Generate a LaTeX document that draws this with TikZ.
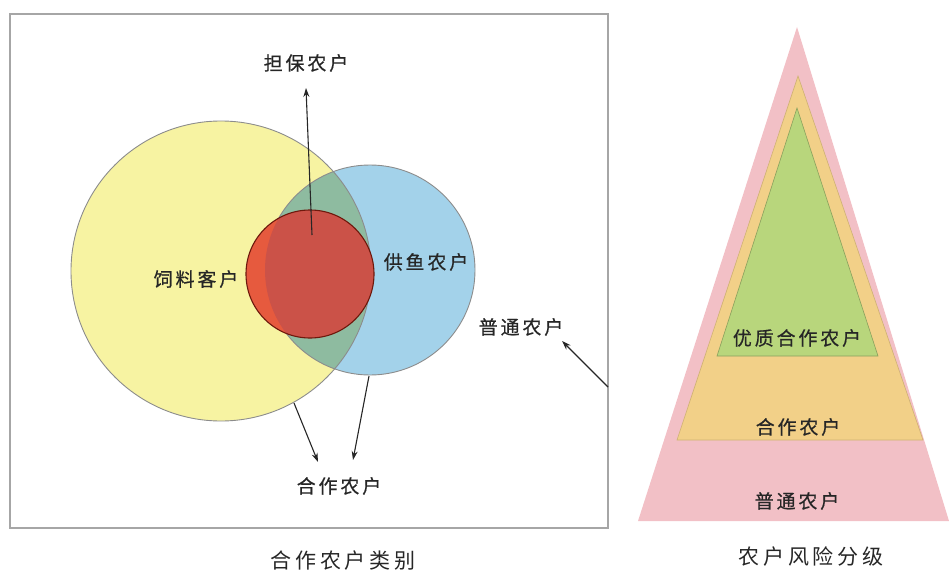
\documentclass[tikz,border=0pt]{standalone}
\usepackage{fontspec}
\newfontfamily\cjk[LetterSpace=15,FakeBold=0.6]{Noto Sans CJK SC}
\newfontfamily\cjktitle[LetterSpace=18]{Noto Sans CJK SC}
\usetikzlibrary{arrows.meta}
\definecolor{feedyellow}{RGB}{247,243,162}
\definecolor{fishblue}{RGB}{163,210,234}
\definecolor{lensgreen}{RGB}{142,187,160}
\definecolor{guarred}{RGB}{230,90,62}
\definecolor{guardark}{RGB}{203,82,72}
\definecolor{pyrpink}{RGB}{242,192,198}
\definecolor{pyryellow}{RGB}{242,208,136}
\definecolor{pyrgreen}{RGB}{184,214,124}
\begin{document}
\begin{tikzpicture}[x=1pt,y=-1pt,
    lbl/.style={font=\cjk\fontsize{19}{19}\selectfont, text=black!85, inner sep=0pt},
    ttl/.style={font=\cjktitle\fontsize{21}{21}\selectfont, text=black!85, inner sep=0pt},
    arr/.style={-{Stealth[length=9pt,width=6pt]}, line width=1.1pt, black!85}]
    \useasboundingbox (0,0) rectangle (949,572);
    % left panel: customer types
    \draw[black!35, line width=1.3pt] (10,14) rectangle (608,528);
    \coordinate (feed) at (221,271);
    \coordinate (fish) at (370,270);
    \coordinate (guar) at (310,274);
    \fill[feedyellow] (feed) circle (150);
    \fill[fishblue] (fish) circle (105);
    \begin{scope}
        \clip (feed) circle (150);
        \fill[lensgreen] (fish) circle (105);
    \end{scope}
    \draw[black!45, line width=0.9pt] (feed) circle (150);
    \draw[black!45, line width=0.9pt] (fish) circle (105);
    \fill[guarred] (guar) circle (64);
    \begin{scope}
        \clip (fish) circle (105);
        \fill[guardark] (guar) circle (64);
    \end{scope}
    \draw[black!65!red!80!brown, line width=1.1pt] (guar) circle (64);
    \node[lbl] (guarlbl) at (306,63) {担保农户};
    \node[lbl] (feedlbl) at (196,279) {饲料客户};
    \node[lbl] (fishlbl) at (426,262) {供鱼农户};
    \node[lbl] (commlbl) at (521,327) {普通农户};
    \node[lbl] (cooplbl) at (339,486) {合作农户};
    \node[ttl] (lefttitle) at (343,561) {合作农户类别};
    \coordinate (guarin) at (312,235);
    \coordinate (guartip) at (306,88);
    \coordinate (commout) at (608,387);
    \coordinate (commtip) at (562,341);
    \coordinate (feedout) at (294,403);
    \coordinate (fishout) at (369,376);
    \coordinate (cooptipa) at (318,462);
    \coordinate (cooptipb) at (353,460);
    \draw[arr] (guarin) -- (guartip);
    \draw[arr] (commout) -- (commtip);
    \draw[arr] (feedout) -- (cooptipa);
    \draw[arr] (fishout) -- (cooptipb);
    % right panel: risk levels
    \fill[pyrpink] (797,27) -- (949,521) -- (638,521) -- cycle;
    \filldraw[pyryellow, draw=pyryellow!85!black, line width=0.6pt] (798,76) -- (923,440) -- (677,440) -- cycle;
    \filldraw[pyrgreen, draw=pyrgreen!75!black, line width=0.6pt] (797,108) -- (878,356) -- (717,356) -- cycle;
    \node[lbl] (toplbl) at (797,338) {优质合作农户};
    \node[lbl] (midlbl) at (798,427) {合作农户};
    \node[lbl] (baselbl) at (797,501) {普通农户};
    \node[ttl] (righttitle) at (811,557) {农户风险分级};
\end{tikzpicture}
\end{document}
